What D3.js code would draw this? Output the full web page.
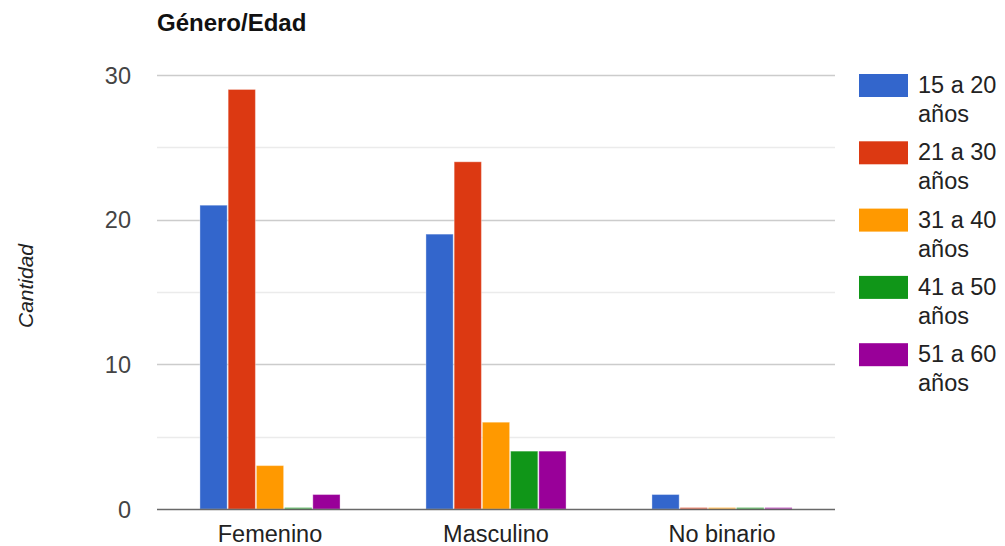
<!DOCTYPE html>
<html><head><meta charset="utf-8">
<script src="https://cdn.jsdelivr.net/npm/d3@7"></script>
<style>body{margin:0;background:#fff}svg{display:block}text{font-family:Arial,"Liberation Sans",sans-serif}</style>
</head><body><svg id="c" width="1005" height="546"></svg>
<script>
const categories = ["Femenino", "Masculino", "No binario"];
const seriesNames = ["15 a 20 años", "21 a 30 años", "31 a 40 años", "41 a 50 años", "51 a 60 años"];
const s15a20 = [21, 19, 1];
const s21a30 = [29, 24, 0];
const s31a40 = [3, 6, 0];
const s41a50 = [0, 4, 0];
const s51a60 = [1, 4, 0];
const yTicks = [0, 10, 20, 30];
const yMinor = [5, 15, 25];
const colors = ["#3366cc", "#dc3912", "#ff9900", "#109618", "#990099"];
const seriesValues = [s15a20, s21a30, s31a40, s41a50, s51a60];

const FS = 23.5;
const svg = d3.select("#c");
const L = 157, R = 835, T = 75, B = 509;
const x0 = d3.scaleBand().domain(categories).range([L, R]).paddingInner(0.38).paddingOuter(0.19);
const x1 = d3.scaleBand().domain(seriesNames).range([0, x0.bandwidth()]).paddingInner(0.035);
const y = d3.scaleLinear().domain([0, 30]).range([B, T]);

// gridlines
svg.append("g").selectAll("line.minor").data(yMinor).join("line")
  .attr("x1", L).attr("x2", R).attr("y1", d => Math.round(y(d)) + 0.5).attr("y2", d => Math.round(y(d)) + 0.5)
  .attr("stroke", "#ebebeb").attr("stroke-width", 1.5);
svg.append("g").selectAll("line.major").data(yTicks.filter(d => d !== 0)).join("line")
  .attr("x1", L).attr("x2", R).attr("y1", d => Math.round(y(d)) + 0.5).attr("y2", d => Math.round(y(d)) + 0.5)
  .attr("stroke", "#cccccc").attr("stroke-width", 1.5);

// y tick labels
const yAxis = d3.axisLeft(y).tickValues(yTicks).tickSize(0).tickPadding(0);
const ya = svg.append("g").attr("transform", `translate(131,0)`).call(yAxis);
ya.select(".domain").remove();
ya.selectAll("text").attr("font-size", FS).attr("fill", "#444").attr("font-family", "Arial, 'Liberation Sans', sans-serif").attr("dy", "0.35em");

// bars
const groups = svg.append("g").selectAll("g").data(categories).join("g")
  .attr("transform", d => `translate(${x0(d)},0)`);
groups.selectAll("rect").data((c, ci) => seriesNames.map((s, si) => ({s, si, v: seriesValues[si][ci]})))
  .join("rect")
  .attr("x", d => x1(d.s))
  .attr("width", x1.bandwidth())
  .attr("y", d => d.v === 0 ? y(0) - 1.5 : y(d.v))
  .attr("height", d => d.v === 0 ? 2 : y(0) - y(d.v))
  .attr("fill", d => colors[d.si])
  .attr("fill-opacity", d => d.v === 0 ? 0.55 : 1)
  .attr("stroke", d => d.v === 0 ? "none" : "#fff")
  .attr("stroke-opacity", 0.35)
  .attr("stroke-width", 1);

// baseline
svg.append("line").attr("x1", L).attr("x2", R).attr("y1", y(0) + 0.5).attr("y2", y(0) + 0.5)
  .attr("stroke", "#444").attr("stroke-width", 1.5).attr("stroke-opacity", 0.8);

// x labels
const xAxis = d3.axisBottom(x0).tickSize(0).tickPadding(0);
const xa = svg.append("g").attr("transform", `translate(0,542)`).call(xAxis);
xa.select(".domain").remove();
xa.selectAll("text").attr("font-size", FS).attr("fill", "#222").attr("font-family", "Arial, 'Liberation Sans', sans-serif").attr("dy", 0);

// title
svg.append("text").attr("x", 157).attr("y", 31).attr("font-size", 24).attr("font-weight", "bold")
  .attr("fill", "#111").text("Género/Edad");

// y axis title
svg.append("text").attr("transform", "translate(33,286) rotate(-90)").attr("text-anchor", "middle")
  .attr("font-size", 21).attr("font-style", "italic").attr("fill", "#222").text("Cantidad");

// legend
const leg = svg.append("g").selectAll("g").data(seriesNames).join("g")
  .attr("transform", (d, i) => `translate(859,${74 + i * 67.3})`);
leg.append("rect").attr("width", 49).attr("height", 23).attr("fill", (d, i) => colors[i]);
leg.append("text").attr("x", 59).attr("y", 19).attr("font-size", FS).attr("fill", "#222")
  .text(d => d.split(" ").slice(0, 3).join(" "));
leg.append("text").attr("x", 59).attr("y", 48).attr("font-size", FS).attr("fill", "#222")
  .text(d => d.split(" ").slice(3).join(" "));
</script></body></html>
